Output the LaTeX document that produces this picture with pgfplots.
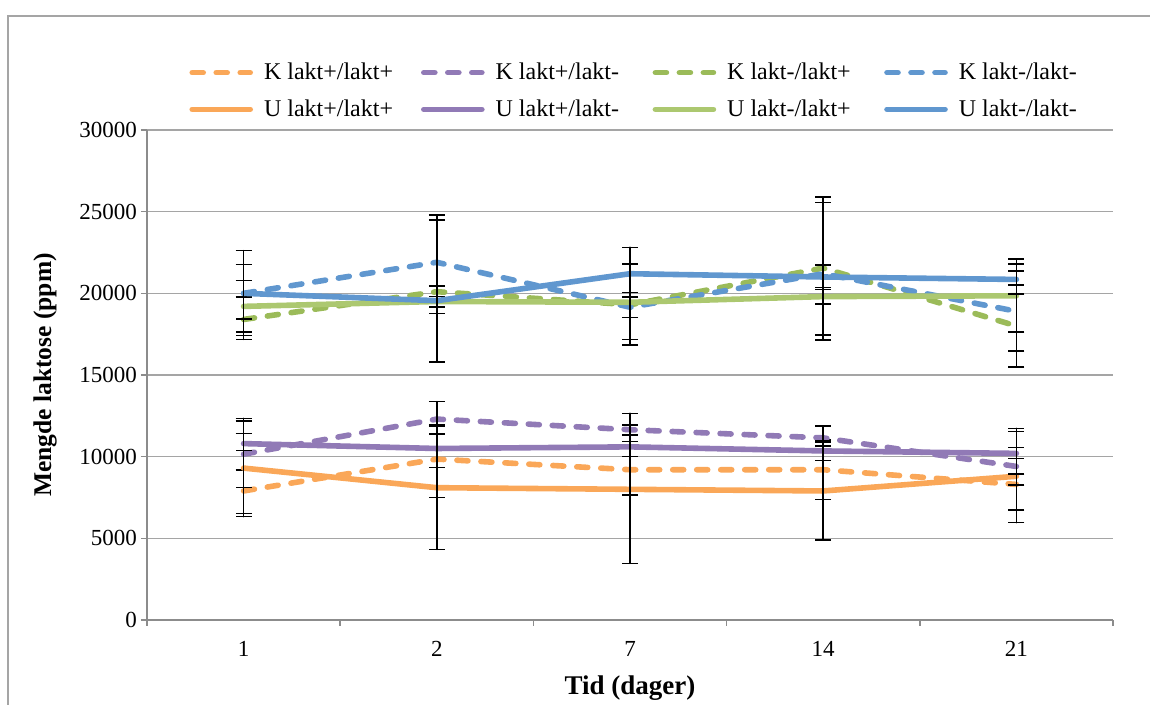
\documentclass[border=0pt]{standalone}
\usepackage{fontspec}
\setmainfont{Liberation Serif}
\usepackage{pgfplots}
\pgfplotsset{compat=1.18}
\definecolor{cor}{RGB}{250,167,88}
\definecolor{cpu}{RGB}{145,122,182}
\definecolor{cgd}{RGB}{155,187,89}
\definecolor{cgs}{RGB}{172,200,112}
\definecolor{cbl}{RGB}{96,151,207}
\definecolor{gridgray}{RGB}{165,165,165}
\definecolor{axgray}{RGB}{140,140,140}
\begin{document}
\begin{tikzpicture}[x=1pt,y=1pt]
\useasboundingbox (-73.5,-42.5) rectangle (501.5,310);
\draw[color=gridgray, line width=0.9pt] (-69.5,-42.5) -- (-69.5,302) -- (501.5,302);
\begin{axis}[
  at={(0,0)}, anchor=south west, scale only axis, width=483pt, height=245pt,
  xmin=0.5, xmax=5.5, ymin=0, ymax=30000,
  axis x line=bottom, axis y line=left,
  axis line style={-, draw=axgray, line width=0.8pt},
  xtick={1,2,3,4,5}, xticklabels={1,2,7,14,21},
  minor xtick={0.5,1.5,2.5,3.5,4.5,5.5},
  ytick={0,5000,10000,15000,20000,25000,30000},
  scaled y ticks=false,
  yticklabel style={/pgf/number format/1000 sep={}, xshift=1.5pt},
  ymajorgrids, grid style={gridgray, line width=0.8pt},
  tick align=outside, major tick length=3pt, minor tick length=3pt,
  major x tick style={draw=none},
  minor x tick style={draw=axgray, line width=0.8pt},
  major y tick style={draw=axgray, line width=0.8pt},
  /pgf/number format/assume math mode=true,
  ticklabel style={font=\fontsize{11.5}{13}\selectfont},
  xticklabel style={yshift=-4pt},
  xlabel={\textbf{Tid (dager)}}, ylabel={\textbf{Mengde laktose (ppm)}},
  every axis x label/.style={at={(axis description cs:0.5,0)}, anchor=center, yshift=-34pt, font=\fontsize{13.5}{15}\selectfont},
  every axis y label/.style={at={([xshift=-51pt]axis description cs:0,0.5)}, anchor=center, rotate=90, font=\fontsize{12.75}{15}\selectfont},
  legend columns=4,
  legend style={at={(axis description cs:0.0435,1.146)}, anchor=north west, draw=none, fill=none, inner sep=0pt,
    font=\fontsize{12}{14}\selectfont, row sep=4.5pt,
    /tikz/every even column/.append style={column sep=0pt}},
  legend cell align=left,
  legend image code/.code={\draw[#1] (0pt,0pt) -- (29pt,0pt);},
  every axis plot/.append style={line width=2.8pt, mark=none, line cap=round, line join=round},
  error bars/y dir=both, error bars/y explicit,
  error bars/error bar style={black, line width=0.8pt, solid},
  error bars/error mark options={rotate=90, black, mark size=4pt, line width=0.8pt, solid},
  kdash/.style={dash pattern=on 5.5pt off 6.5pt},
]
% K series (dashed)
\addplot[cor, kdash] coordinates {
 (1,7900) += (0,1283) -= (0,1575)
 (2,9850) += (0,2130) -= (0,2362)
 (3,9200) += (0,1716) -= (0,1547)
 (4,9200) += (0,1862) -= (0,1811)
 (5,8300) += (0,2273) -= (0,35)
};
\addlegendentry{\makebox[80pt][l]{\hspace{3.5pt}K lakt+/lakt+}}
\addplot[cpu, kdash] coordinates {
 (1,10150) += (0,2198) -= (0,2050)
 (2,12300) += (0,1065) -= (0,913)
 (3,11650) += (0,300) -= (0,300)
 (4,11150) += (0,727) -= (0,498)
 (5,9400) += (0,2131) -= (0,2666)
};
\addlegendentry{\makebox[80pt][l]{\hspace{3.5pt}K lakt+/lakt-}}
\addplot[cgd, kdash] coordinates {
 (1,18400) += (0,1393) -= (0,1215)
 (2,20100) += (0,4390) -= (0,4287)
 (3,19300) += (0,2500) -= (0,2464)
 (4,21550) += (0,4330) -= (0,4408)
 (5,18000) += (0,2508) -= (0,2493)
};
\addlegendentry{\makebox[80pt][l]{\hspace{3.5pt}K lakt-/lakt+}}
\addplot[cbl, kdash] coordinates {
 (1,20000) += (0,2610) -= (0,2570)
 (2,21900) += (0,2895) -= (0,2757)
 (3,19150) += (0,912) -= (0,619)
 (4,21200) += (0,4350) -= (0,3752)
 (5,18900) += (0,2466) -= (0,2413)
};
\addlegendentry{\makebox[80pt][l]{\hspace{3.5pt}K lakt-/lakt-}}
% U series (solid)
\addplot[cor] coordinates {
 (1,9300) += (0,2900) -= (0,2770)
 (2,8100) += (0,3800) -= (0,3773)
 (3,8000) += (0,4654) -= (0,4530)
 (4,7900) += (0,3000) -= (0,3002)
 (5,8800) += (0,1098) -= (0,2843)
};
\addlegendentry{\makebox[80pt][l]{\hspace{3.5pt}U lakt+/lakt+}}
\addplot[cpu] coordinates {
 (1,10800) += (0,630) -= (0,435)
 (2,10500) += (0,1335) -= (0,1175)
 (3,10600) += (0,685) -= (0,602)
 (4,10350) += (0,600) -= (0,596)
 (5,10200) += (0,1535) -= (0,1262)
};
\addlegendentry{\makebox[80pt][l]{\hspace{3.5pt}U lakt+/lakt-}}
\addplot[cgs] coordinates {
 (1,19200) += (0,1573) -= (0,1550)
 (2,19500) += (0,300) -= (0,300)
 (3,19450) += (0,2387) -= (0,2265)
 (4,19800) += (0,445) -= (0,455)
 (5,19850) += (0,2250) -= (0,2200)
};
\addlegendentry{\makebox[80pt][l]{\hspace{3.5pt}U lakt-/lakt+}}
\addplot[cbl] coordinates {
 (1,20000) += (0,1777) -= (0,1572)
 (2,19550) += (0,898) -= (0,774)
 (3,21200) += (0,1617) -= (0,1407)
 (4,21000) += (0,733) -= (0,632)
 (5,20850) += (0,950) -= (0,892)
};
\addlegendentry{\makebox[80pt][l]{\hspace{3.5pt}U lakt-/lakt-}}
\end{axis}
\end{tikzpicture}
\end{document}
